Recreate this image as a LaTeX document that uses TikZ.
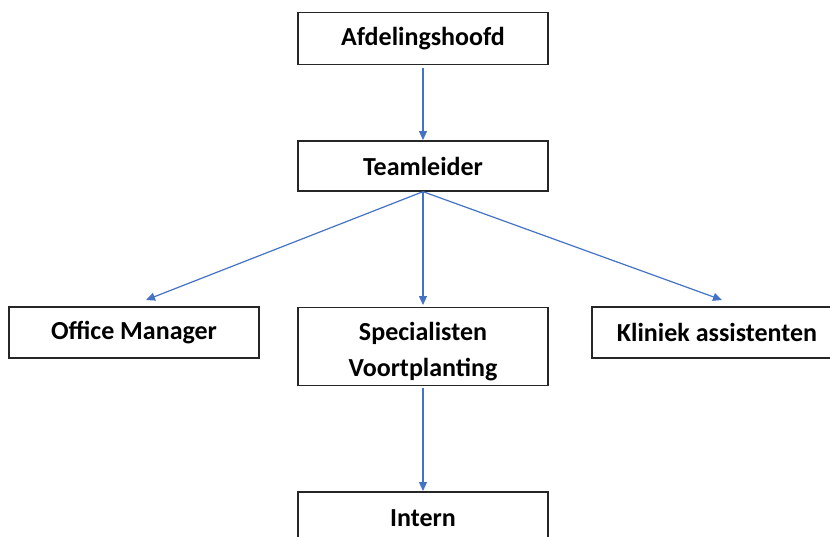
\documentclass[tikz,border=0pt]{standalone}
\usepackage{fontspec}
\setmainfont{Carlito}
\usetikzlibrary{arrows.meta}
\definecolor{arrowblue}{HTML}{4472C4}
\definecolor{boxline}{HTML}{262626}
\begin{document}
\begin{tikzpicture}[x=1pt,y=-1pt,
  box/.style={draw=boxline,line width=1.3pt,minimum width=250pt,inner sep=0pt,
    font=\fontsize{26}{36}\selectfont\bfseries,align=center},
  conn/.style={draw=arrowblue,line width=1.2pt,-{Triangle[length=9pt,width=8pt]}}]
\useasboundingbox[fill=white] (0,0) rectangle (830,536);
\node[box,minimum height=52pt] (A) at (423,38.5) {Afdelingshoofd};
\node[box,minimum height=50pt] (T) at (423,166) {Teamleider};
\node[box,minimum height=51pt] (O) at (134,332.5) {Office Manager};
\node[box,minimum height=78pt] (S) at (423,346.5) {\rule{0pt}{28pt}Specialisten\\Voortplanting};
\node[box,minimum height=51pt] (K) at (717,332.5) {Kliniek assistenten};
\node[box,minimum height=52pt] (I) at (423,518) {Intern};
\coordinate (oTip) at (146,300);
\coordinate (sTip) at (423,305);
\coordinate (kTip) at (722,300);
\coordinate (iTip) at (423,491);
\coordinate (aTip) at (423,140);
\draw[conn] (A.south) ++(0,3) -- (aTip);
\draw[conn] (T.south) -- (oTip);
\draw[conn] (T.south) -- (sTip);
\draw[conn] (T.south) -- (kTip);
\draw[conn] (S.south) ++(0,2) -- (iTip);
\end{tikzpicture}
\end{document}
